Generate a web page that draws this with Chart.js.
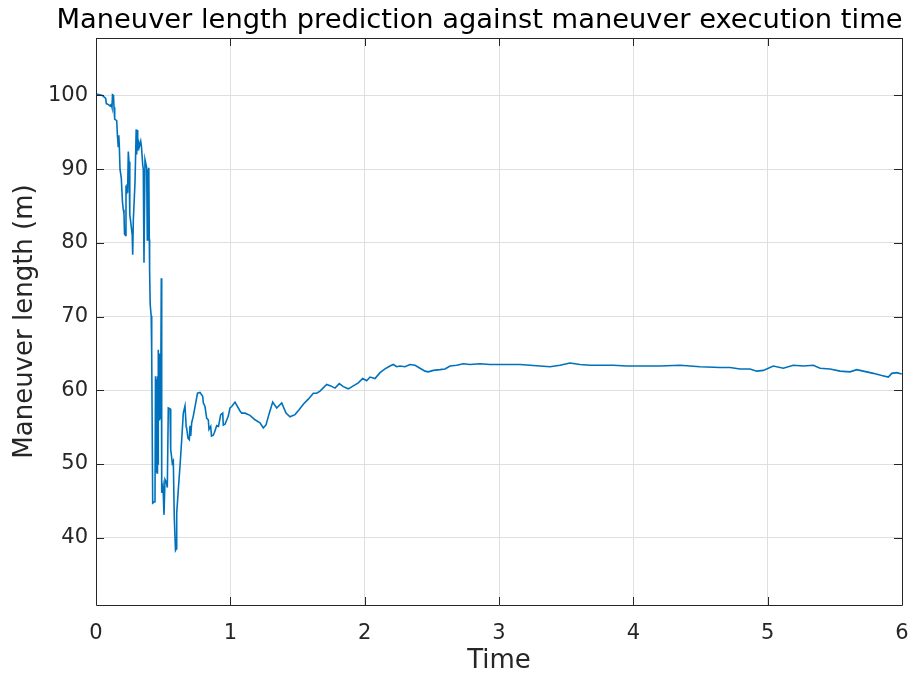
<!DOCTYPE html>
<html>
<head>
<meta charset="utf-8">
<script src="https://cdn.jsdelivr.net/npm/chart.js@4.4.1/dist/chart.umd.min.js"></script>
<style>
  html, body { margin: 0; padding: 0; background: #ffffff; }
  #wrap { width: 913px; height: 677px; }
</style>
</head>
<body>
<div id="wrap"><canvas id="c" width="913" height="677"></canvas></div>
<script>
// Execution time samples and the predicted maneuver length at each one
const timeValues = [
  0.0000, 0.0298, 0.0469, 0.0596, 0.0722, 0.0767, 0.0893, 0.1042, 0.1139, 0.1191,
  0.1228, 0.1303, 0.1340, 0.1392, 0.1541, 0.1601, 0.1653, 0.1697, 0.1735, 0.1787,
  0.1883, 0.1973, 0.2032, 0.2084, 0.2122, 0.2196, 0.2233, 0.2278, 0.2323, 0.2352,
  0.2405, 0.2457, 0.2516, 0.2554, 0.2695, 0.2732, 0.2777, 0.2903, 0.2993, 0.3030,
  0.3067, 0.3104, 0.3149, 0.3216, 0.3328, 0.3387, 0.3477, 0.3521, 0.3573, 0.3611,
  0.3648, 0.3774, 0.3819, 0.3856, 0.3893, 0.3931, 0.3968, 0.3990, 0.4035, 0.4109,
  0.4147, 0.4221, 0.4355, 0.4392, 0.4429, 0.4467, 0.4504, 0.4541, 0.4578, 0.4616,
  0.4638, 0.4690, 0.4727, 0.4779, 0.4824, 0.4861, 0.4891, 0.4988, 0.5062, 0.5137,
  0.5248, 0.5308, 0.5382, 0.5509, 0.5561, 0.5680, 0.5755, 0.5829, 0.5918, 0.5978,
  0.6008, 0.6127, 0.6253, 0.6380, 0.6499, 0.6626, 0.6715, 0.6752, 0.6849, 0.6946,
  0.6998, 0.7050, 0.7124, 0.7243, 0.7444, 0.7556, 0.7742, 0.7943, 0.7988, 0.8114,
  0.8241, 0.8360, 0.8412, 0.8539, 0.8598, 0.8732, 0.8821, 0.8985, 0.9119, 0.9283,
  0.9432, 0.9476, 0.9603, 0.9849, 0.9975, 1.0102, 1.0348, 1.0594, 1.0720, 1.0847,
  1.1092, 1.1464, 1.1837, 1.2209, 1.2454, 1.2655, 1.2901, 1.3154, 1.3452, 1.3824,
  1.4144, 1.4442, 1.4814, 1.5134, 1.5432, 1.5804, 1.6177, 1.6430, 1.6675, 1.7174,
  1.7472, 1.7792, 1.8112, 1.8410, 1.8782, 1.9154, 1.9527, 1.9854, 2.0152, 2.0398,
  2.0770, 2.1142, 2.1514, 2.1887, 2.2132, 2.2385, 2.2631, 2.3003, 2.3375, 2.3748,
  2.4120, 2.4492, 2.4738, 2.5110, 2.5609, 2.5981, 2.6353, 2.6852, 2.7343, 2.7842,
  2.8586, 2.9331, 3.0075, 3.0820, 3.1564, 3.2309, 3.3053, 3.3798, 3.4542, 3.5286,
  3.6031, 3.6775, 3.7520, 3.8510, 3.9508, 4.0498, 4.1987, 4.3476, 4.4965, 4.6453,
  4.7198, 4.7942, 4.8687, 4.9185, 4.9677, 5.0421, 5.1166, 5.1910, 5.2655, 5.3399,
  5.3898, 5.4642, 5.5387, 5.6131, 5.6630, 5.7121, 5.7866, 5.8491, 5.8983, 5.9236,
  5.9608, 5.9980
];

const lengthValues = [
  100.2, 100.1, 100.0, 99.8, 99.6, 98.9, 98.8, 98.6, 98.8, 98.4,
  100.1, 100.0, 98.4, 96.8, 96.6, 94.4, 93.1, 94.6, 93.2, 90.0,
  88.8, 85.5, 84.5, 84.0, 81.2, 81.0, 87.8, 86.6, 88.0, 86.8,
  92.4, 91.0, 83.8, 83.3, 81.1, 78.4, 83.0, 88.2, 95.4, 92.0,
  95.3, 92.5, 94.0, 93.0, 93.8, 93.0, 90.6, 90.0, 77.3, 85.0,
  91.3, 90.2, 80.4, 90.0, 80.5, 90.2, 80.5, 76.4, 71.6, 70.1,
  65.0, 44.7, 44.9, 45.2, 61.9, 49.0, 61.5, 48.8, 61.9, 50.0,
  65.5, 56.0, 65.0, 56.2, 62.0, 75.2, 46.1, 47.0, 43.1, 47.9,
  47.5, 46.8, 57.6, 57.5, 52.0, 50.1, 50.4, 42.6, 38.3, 38.5,
  43.3, 46.5, 49.7, 53.3, 56.9, 57.9, 55.0, 54.8, 53.5, 53.3,
  55.2, 53.8, 55.6, 56.5, 58.5, 59.6, 59.7, 59.2, 58.3, 57.8,
  56.2, 56.0, 54.7, 55.1, 53.8, 53.9, 54.3, 55.2, 55.1, 56.7,
  56.9, 55.3, 55.4, 56.5, 57.6, 57.8, 58.4, 57.6, 57.2, 56.9,
  56.9, 56.6, 56.0, 55.6, 54.9, 55.3, 56.9, 58.4, 57.6, 58.3,
  56.9, 56.4, 56.7, 57.4, 58.1, 58.8, 59.6, 59.6, 59.9, 60.8,
  60.6, 60.3, 60.9, 60.5, 60.2, 60.6, 61.0, 61.6, 61.3, 61.8,
  61.6, 62.4, 62.9, 63.3, 63.5, 63.2, 63.3, 63.2, 63.5, 63.4,
  63.0, 62.6, 62.5, 62.7, 62.8, 62.9, 63.3, 63.4, 63.6, 63.5,
  63.6, 63.5, 63.5, 63.5, 63.5, 63.4, 63.3, 63.2, 63.4, 63.7,
  63.5, 63.4, 63.4, 63.4, 63.3, 63.3, 63.3, 63.4, 63.2, 63.1,
  63.1, 62.9, 62.9, 62.6, 62.7, 63.3, 63.0, 63.4, 63.3, 63.4,
  63.0, 62.9, 62.6, 62.5, 62.8, 62.6, 62.3, 62.0, 61.8, 62.3,
  62.4, 62.2
];

const xTickValues = [0, 1, 2, 3, 4, 5, 6];
const yTickValues = [40, 50, 60, 70, 80, 90, 100];

const titleText = 'Maneuver length prediction against maneuver execution time';
const xLabel = 'Time';
const yLabel = 'Maneuver length (m)';

const points = timeValues.map((t, i) => ({ x: t, y: lengthValues[i] }));

const AXIS_COLOR = '#262626';
const GRID_COLOR = '#dfdfdf';
const FONT = '"DejaVu Sans", sans-serif';

// Heading text above the plot box
const headingPlugin = {
  id: 'headingPlugin',
  afterDraw(chart) {
    const { ctx } = chart;
    ctx.save();
    ctx.fillStyle = '#000000';
    ctx.font = '27.3px ' + FONT;
    ctx.textAlign = 'center';
    ctx.textBaseline = 'alphabetic';
    ctx.fillText(titleText, 479.5, 28);
    ctx.restore();
  }
};

// Closed box around the plot area with inward tick marks on all four sides
const boxPlugin = {
  id: 'boxPlugin',
  afterDraw(chart) {
    const { ctx, chartArea: a, scales } = chart;
    ctx.save();
    ctx.strokeStyle = AXIS_COLOR;
    ctx.lineWidth = 1;
    ctx.beginPath();
    ctx.rect(Math.round(a.left) + 0.5, Math.round(a.top) + 0.5,
             Math.round(a.right - a.left), Math.round(a.bottom - a.top));
    ctx.stroke();
    const len = 8;
    ctx.beginPath();
    xTickValues.forEach(v => {
      const px = Math.round(scales.x.getPixelForValue(v)) + 0.5;
      ctx.moveTo(px, a.bottom); ctx.lineTo(px, a.bottom - len);
      ctx.moveTo(px, a.top); ctx.lineTo(px, a.top + len);
    });
    yTickValues.forEach(v => {
      const py = Math.round(scales.y.getPixelForValue(v)) + 0.5;
      ctx.moveTo(a.left, py); ctx.lineTo(a.left + len, py);
      ctx.moveTo(a.right, py); ctx.lineTo(a.right - len, py);
    });
    ctx.stroke();
    ctx.restore();
  }
};

new Chart(document.getElementById('c'), {
  type: 'line',
  data: {
    datasets: [{
      data: points,
      borderColor: '#0072BD',
      borderWidth: 1.6,
      pointRadius: 0,
      tension: 0,
      fill: false
    }]
  },
  options: {
    responsive: false,
    animation: false,
    events: [],
    layout: { padding: { top: 38, right: 11, bottom: 0, left: 0 } },
    plugins: {
      legend: { display: false },
      tooltip: { enabled: false },
      title: { display: false }
    },
    scales: {
      x: {
        type: 'linear',
        min: 0,
        max: 6,
        afterBuildTicks(scale) { scale.ticks = xTickValues.map(v => ({ value: v })); },
        afterFit(scale) {
          scale.height = 72;
          scale.paddingLeft = 0;
          scale.paddingRight = 0;
        },
        grid: { color: GRID_COLOR, drawTicks: false, lineWidth: 1 },
        border: { display: false },
        ticks: {
          color: AXIS_COLOR,
          font: { family: FONT, size: 21 },
          padding: 16,
          maxRotation: 0
        },
        title: {
          display: true,
          text: xLabel,
          color: AXIS_COLOR,
          font: { family: FONT, size: 26 },
          padding: { top: 0, bottom: 0 }
        }
      },
      y: {
        type: 'linear',
        min: 30.87,
        max: 107.8,
        afterBuildTicks(scale) { scale.ticks = yTickValues.map(v => ({ value: v })); },
        afterFit(scale) { scale.width = 96; },
        grid: { color: GRID_COLOR, drawTicks: false, lineWidth: 1 },
        border: { display: false },
        ticks: {
          color: AXIS_COLOR,
          font: { family: FONT, size: 21 },
          padding: 8
        },
        title: {
          display: true,
          text: yLabel,
          color: AXIS_COLOR,
          font: { family: FONT, size: 26 },
          padding: { top: 10, bottom: 0 }
        }
      }
    }
  },
  plugins: [boxPlugin, headingPlugin]
});
</script>
</body>
</html>
